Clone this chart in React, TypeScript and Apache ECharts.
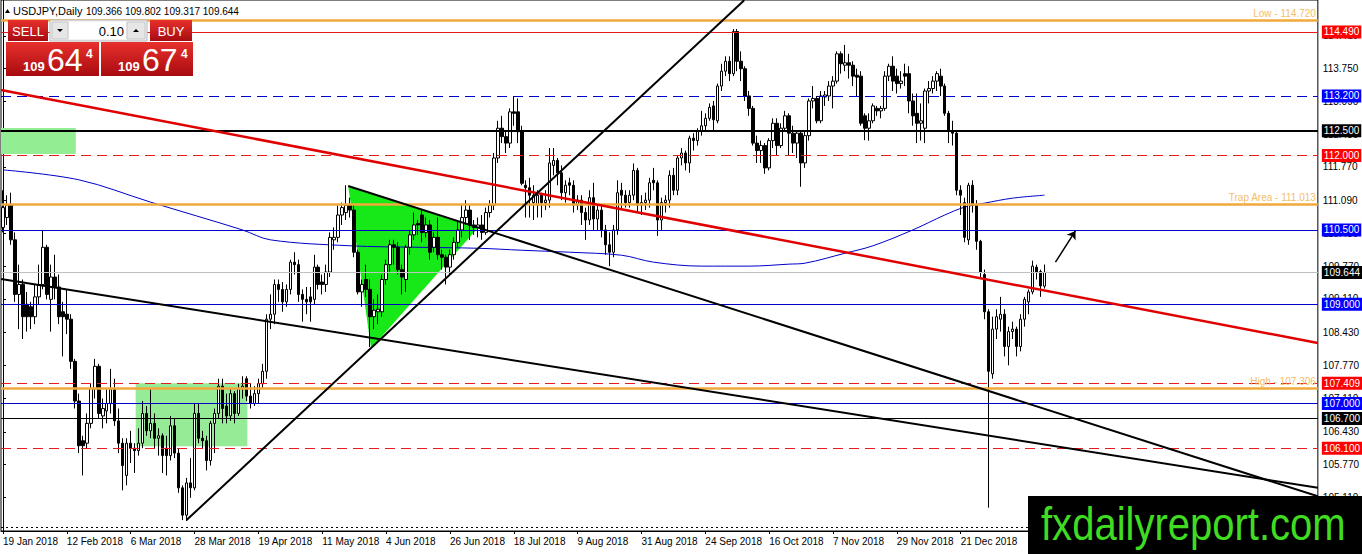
import React, { useEffect, useRef } from "react";
import * as echarts from "echarts";

const FONT = "Liberation Sans";
const MONTHS = ["Jan", "Feb", "Mar", "Apr", "May", "Jun", "Jul", "Aug", "Sep", "Oct", "Nov", "Dec"];

// daily bars [open, close, low, high]
// 19 Jan - 30 Mar 2018
const q1 = [
  [110.55, 110.95, 110.45, 111.3], [110.75, 111.0, 110.6, 111.2], [111.0, 110.3, 110.2, 111.25], [110.3, 109.2, 109.05, 110.45],
  [109.2, 109.4, 108.5, 109.8], [109.4, 108.75, 108.3, 109.5], [109.0, 108.75, 108.45, 109.25], [108.95, 108.75, 108.5, 109.05],
  [108.75, 109.15, 108.6, 109.4], [109.15, 109.4, 109.0, 109.8], [109.4, 110.15, 109.3, 110.5], [110.15, 109.2, 109.1, 110.2],
  [109.1, 109.55, 108.45, 109.8], [109.55, 109.35, 109.1, 110.0], [109.35, 108.75, 108.6, 109.6], [108.85, 108.75, 107.95, 109.05],
  [108.8, 108.7, 108.4, 109.3], [108.7, 107.85, 107.7, 108.8], [107.85, 107.05, 106.9, 107.9], [107.05, 106.15, 106.0, 107.2],
  [106.25, 106.15, 105.55, 106.35], [106.2, 106.6, 106.1, 106.8], [106.6, 107.3, 106.5, 107.4], [107.3, 107.75, 107.1, 107.9],
  [107.75, 106.8, 106.7, 107.8], [106.75, 106.9, 106.5, 107.1], [106.85, 107.0, 106.6, 107.3], [107.0, 107.3, 106.8, 107.7],
  [107.3, 106.65, 106.55, 107.5], [106.65, 106.2, 106.0, 106.9], [106.2, 105.75, 105.25, 106.3], [105.55, 106.2, 105.35, 106.3],
  [106.2, 106.1, 105.8, 106.45], [106.1, 106.05, 105.6, 106.2], [106.05, 106.2, 105.95, 106.5], [106.2, 106.8, 106.1, 107.05],
  [106.8, 106.45, 106.35, 106.95], [106.45, 106.6, 106.3, 107.3], [106.6, 106.3, 106.1, 106.8], [106.3, 106.35, 105.95, 106.5],
  [106.35, 105.95, 105.6, 106.4], [106.1, 105.95, 105.55, 106.35], [105.95, 106.55, 105.85, 106.75], [106.55, 106.0, 105.9, 106.7],
  [106.0, 105.3, 105.2, 106.1], [105.3, 104.75, 104.65, 105.35], [104.75, 105.4, 104.63, 105.5], [105.4, 105.3, 105.1, 105.9],
  [105.3, 106.8, 105.25, 107.0], [106.8, 106.3, 106.2, 107.0], [106.3, 106.25, 106.1, 106.45],
];
// 2 Apr - 29 Jun 2018
const q2 = [
  [106.25, 105.85, 105.65, 106.35], [105.85, 106.6, 105.75, 106.65], [106.6, 106.8, 106.0, 106.9], [106.8, 107.35, 106.7, 107.5],
  [107.35, 106.9, 106.6, 107.5], [106.95, 106.75, 106.6, 107.2], [106.75, 107.2, 106.65, 107.3], [107.2, 106.8, 106.6, 107.25],
  [106.8, 107.3, 106.75, 107.4], [107.3, 107.35, 107.1, 107.55], [107.5, 107.15, 107.05, 107.55], [107.15, 107.0, 106.9, 107.4],
  [107.0, 107.2, 106.95, 107.35], [107.2, 107.4, 107.0, 107.5], [107.4, 107.65, 107.3, 107.8], [107.65, 108.7, 107.5, 108.8],
  [108.7, 108.8, 108.5, 109.2], [108.8, 109.4, 108.6, 109.5], [109.4, 109.3, 109.05, 109.5], [109.3, 109.05, 108.85, 109.45],
  [109.05, 109.3, 108.95, 109.4], [109.3, 109.85, 109.2, 109.9], [109.85, 109.8, 109.6, 110.05], [109.8, 109.2, 109.05, 109.9],
  [109.2, 109.1, 108.65, 109.3], [109.1, 109.05, 108.8, 109.35], [109.15, 109.05, 108.65, 109.35], [109.1, 109.75, 109.0, 110.0],
  [109.75, 109.4, 109.3, 109.8], [109.45, 109.4, 109.2, 109.6], [109.4, 109.65, 109.25, 109.8], [109.65, 110.35, 109.55, 110.45],
  [110.3, 110.35, 110.1, 110.55], [110.35, 110.8, 110.25, 111.0], [110.8, 110.95, 110.6, 111.05], [110.85, 111.0, 110.7, 111.4],
  [111.0, 110.9, 110.75, 111.15], [110.9, 110.05, 109.95, 111.0], [110.05, 109.25, 109.2, 110.1], [109.25, 109.4, 108.95, 109.5],
  [109.5, 109.3, 109.15, 109.8], [109.3, 108.75, 108.14, 109.5], [108.75, 108.88, 108.5, 109.1], [108.85, 108.9, 108.6, 109.2],
  [108.85, 109.5, 108.75, 109.6], [109.5, 109.8, 109.4, 109.9], [109.8, 110.2, 109.65, 110.3], [110.2, 110.15, 109.8, 110.3],
  [110.15, 109.7, 109.6, 110.25], [109.7, 109.55, 109.2, 109.8], [109.5, 110.15, 109.25, 110.2], [110.15, 110.4, 110.0, 110.5],
  [110.4, 110.6, 110.3, 110.85], [110.63, 110.6, 110.4, 110.7], [110.8, 110.45, 110.25, 110.9], [110.45, 110.6, 110.35, 110.75],
  [110.6, 110.05, 109.9, 110.7], [110.15, 110.35, 110.05, 110.45], [110.35, 110.0, 109.9, 110.75], [110.0, 109.95, 109.7, 110.1],
  [109.95, 109.75, 109.4, 110.0], [109.75, 110.0, 109.6, 110.1], [110.0, 110.25, 109.9, 110.35], [110.25, 110.5, 110.15, 110.7],
  [110.5, 110.75, 110.35, 111.0],
];
// 2 Jul - 28 Sep 2018
const q3 = [
  [110.75, 110.9, 110.6, 111.1], [110.9, 110.6, 110.3, 111.0], [110.6, 110.55, 110.4, 110.7], [110.55, 110.6, 110.35, 110.75],
  [110.6, 110.45, 110.3, 110.8], [110.45, 110.85, 110.4, 110.95], [110.85, 111.0, 110.75, 111.1], [111.0, 111.95, 110.9, 112.05],
  [111.95, 112.55, 111.85, 112.7], [112.55, 112.38, 112.25, 112.8], [112.38, 112.25, 112.05, 112.5], [112.25, 112.88, 112.15, 112.95],
  [112.88, 112.85, 112.6, 113.18], [112.88, 112.48, 112.25, 113.15], [112.48, 111.44, 111.4, 112.6], [111.4, 111.35, 110.75, 111.5],
  [111.35, 111.2, 110.75, 111.55], [111.05, 111.2, 110.7, 111.4], [111.0, 111.2, 110.75, 111.3], [111.2, 111.05, 110.75, 111.25],
  [111.05, 111.1, 110.9, 111.3], [111.1, 111.85, 110.95, 112.15], [111.8, 111.9, 111.6, 112.15], [111.9, 111.65, 111.4, 111.95],
  [111.65, 111.25, 111.1, 111.8], [111.25, 111.4, 111.05, 111.5], [111.45, 111.4, 111.2, 111.55], [111.4, 111.0, 110.85, 111.5],
  [111.0, 111.1, 110.9, 111.2], [111.1, 110.85, 110.6, 111.2], [110.85, 110.7, 110.3, 110.95], [110.7, 111.15, 110.6, 111.3],
  [111.15, 110.72, 110.5, 111.45], [110.72, 110.9, 110.5, 111.0], [110.9, 110.5, 110.35, 111.0], [110.5, 110.2, 110.0, 110.6],
  [110.2, 110.05, 109.77, 110.45], [110.05, 110.5, 109.95, 110.6], [110.5, 111.25, 110.4, 111.5], [111.3, 111.2, 110.9, 111.45],
  [111.2, 111.05, 110.95, 111.3], [111.05, 111.2, 110.95, 111.3], [111.2, 111.7, 111.1, 111.84], [111.7, 111.0, 110.85, 111.75],
  [111.0, 111.05, 110.8, 111.2], [111.05, 111.1, 110.9, 111.25], [111.1, 111.45, 110.95, 111.55], [111.5, 111.45, 111.3, 111.75],
  [111.45, 110.7, 110.38, 111.5], [110.7, 111.05, 110.5, 111.15], [111.05, 111.1, 110.85, 111.2], [111.1, 111.6, 110.95, 111.7],
  [111.6, 111.3, 111.2, 111.75], [111.3, 111.95, 111.2, 112.0], [111.95, 112.05, 111.8, 112.15], [112.05, 111.85, 111.7, 112.1],
  [111.85, 112.35, 111.65, 112.4], [112.35, 112.3, 112.1, 112.45], [112.3, 112.5, 112.2, 112.55], [112.5, 112.6, 112.4, 112.9],
  [112.6, 112.75, 112.5, 112.85], [112.75, 112.97, 112.7, 113.05], [113.0, 112.72, 112.5, 113.1], [112.7, 113.4, 112.65, 113.45],
  [113.4, 113.7, 113.3, 113.85],
];
// 1 Oct - 31 Dec 2018
const q4 = [
  [113.7, 113.9, 113.6, 114.0], [113.9, 113.65, 113.5, 114.0], [113.65, 114.5, 113.6, 114.55], [114.5, 113.9, 113.7, 114.55],
  [113.9, 113.75, 113.5, 114.1], [113.75, 113.2, 113.1, 113.8], [113.2, 112.95, 112.8, 113.3], [112.95, 112.25, 112.2, 113.0],
  [112.25, 112.1, 111.85, 112.4], [112.1, 112.2, 111.85, 112.3], [112.2, 111.75, 111.63, 112.25], [111.75, 112.3, 111.7, 112.35],
  [112.3, 112.65, 112.15, 112.75], [112.65, 112.2, 112.0, 112.75], [112.2, 112.55, 112.15, 112.65], [112.55, 112.8, 112.5, 112.9],
  [112.8, 112.45, 112.0, 112.85], [112.45, 112.25, 112.05, 112.6], [112.25, 112.45, 111.95, 112.5], [112.45, 111.85, 111.37, 112.5],
  [111.85, 112.4, 111.75, 112.5], [112.4, 113.1, 112.3, 113.15], [113.1, 113.15, 112.95, 113.4], [113.15, 112.7, 112.65, 113.2],
  [112.7, 113.2, 112.65, 113.3], [113.18, 113.22, 113.0, 113.3], [113.2, 113.4, 113.1, 113.5], [113.4, 113.5, 112.95, 113.6],
  [113.5, 114.05, 113.45, 114.1], [114.05, 113.85, 113.65, 114.1], [113.82, 113.87, 113.7, 114.23], [113.87, 113.82, 113.55, 114.05],
  [113.82, 113.6, 113.4, 113.9], [113.62, 113.58, 113.2, 113.75], [113.6, 112.65, 112.6, 113.7], [112.8, 112.55, 112.31, 112.85],
  [112.55, 112.7, 112.3, 112.85], [112.7, 113.0, 112.65, 113.05], [112.95, 112.9, 112.8, 113.0], [112.9, 112.95, 112.75, 113.0],
  [112.95, 113.6, 112.9, 113.7], [113.6, 113.8, 113.5, 113.85], [113.8, 113.5, 113.3, 114.0], [113.6, 113.45, 113.25, 113.75],
  [113.45, 113.5, 113.35, 113.7], [113.65, 113.6, 113.4, 113.85], [113.65, 113.1, 112.85, 113.8], [113.1, 112.8, 112.6, 113.25],
  [112.85, 112.65, 112.25, 113.25], [112.65, 112.7, 112.3, 113.05], [112.55, 113.3, 112.25, 113.35], [113.3, 113.35, 113.05, 113.5],
  [113.35, 113.5, 113.25, 113.6], [113.5, 113.65, 113.3, 113.7], [113.6, 113.4, 113.2, 113.75], [113.4, 112.85, 112.8, 113.45],
  [112.85, 112.5, 112.25, 112.9], [112.5, 112.45, 112.2, 112.7], [112.45, 111.3, 111.2, 112.5], [111.3, 111.2, 110.8, 111.4],
  [111.05, 110.35, 110.25, 111.15], [110.3, 111.4, 110.2, 111.45], [111.4, 111.0, 110.85, 111.5], [111.0, 110.27, 110.1, 111.1],
  [110.27, 109.65, 109.55, 110.3],
];
// 2 Jan - 23 Jan 2019
const jan2019 = [
  [109.6, 108.85, 108.7, 109.7], [108.85, 107.65, 104.9, 108.9], [107.6, 108.5, 107.5, 108.75], [108.5, 108.75, 108.3, 108.9],
  [108.7, 108.8, 108.45, 109.15], [108.8, 108.15, 107.95, 108.9], [108.15, 108.45, 107.77, 108.55], [108.45, 108.5, 108.3, 108.65],
  [108.5, 108.15, 107.95, 108.55], [108.15, 108.7, 108.05, 108.8], [108.7, 109.1, 108.55, 109.15], [109.05, 109.25, 108.8, 109.3],
  [109.25, 109.77, 109.2, 109.88], [109.75, 109.65, 109.5, 109.8], [109.66, 109.37, 109.15, 109.7], [109.366, 109.644, 109.317, 109.802],
];
const candles = [...q1, ...q2, ...q3, ...q4, ...jan2019];

const firstDay = "2018-01-19";
const holidays = ["2018-12-25", "2019-01-01"];
const SLOTS = 330;
const LAST_LABEL = 240; // 21 Dec 2018, later labels sit under the watermark

// right-hand price scale
const yTicks = [105.11, 105.77, 106.43, 107.11, 107.77, 108.43, 109.11, 109.77, 110.43, 111.09, 111.77, 112.43, 113.09, 113.75, 114.41];
const yMin = 104.43;
const yMax = 115.135;

// moving average, read at bar index
const maIdx = [0, 19, 37, 60, 67, 87, 104, 119, 130, 142, 155, 163, 175, 187, 197, 201, 211, 218, 228, 236, 241, 246, 253, 261];
const maVal = [111.71, 111.51, 111.06, 110.5, 110.3, 110.18, 110.15, 110.13, 110.09, 110.05, 109.99, 109.85, 109.77, 109.77, 109.81, 109.83, 110.03, 110.18, 110.5, 110.8, 110.96, 111.04, 111.14, 111.2];

// horizontal levels
const levels = [
  ["low", 114.72], ["r1", 114.49], ["b1", 113.2], ["k1", 112.5], ["r2", 112.0], ["trap", 111.013], ["b2", 110.5],
  ["bid", 109.644], ["b3", 109.0], ["r3", 107.409], ["high", 107.306], ["b4", 107.0], ["k2", 106.7], ["r4", 106.1], ["dots", 104.51],
] as [string, number][];

// trend lines [[bar, price], [bar, price]]
const redTrend = [[-0.5, 113.32], [329.5, 108.22]];
const upTrend = [[46, 104.65], [185.75, 115.13]];
const triTrend = [[86.5, 111.385], [329.5, 105.13]];
const longTrend = [[-0.5, 109.51], [329.5, 105.3]];
const arrowLine = [[263.75, 109.85], [268.75, 110.48]];

// shaded zones, corners as [bar, price]
const zoneTop = [[-0.5, 112.555], [18.25, 112.555], [18.25, 112.03], [-0.5, 112.03]];
const zoneLow = [[33.25, 107.41], [61.25, 107.41], [61.25, 106.14], [33.25, 106.14]];
const triangle = [[86.5, 111.385], [92.25, 108.11], [119, 110.54]];

const ORANGE = "#f2a93b";
const RED = "#e31b1b";
const BLUE = "#0000c8";
const DASH = [10, 6];

const levelStyle: Record<string, any> = {
  low: { color: ORANGE, width: 2.5, text: "Low - 114.720" },
  r1: { color: RED, width: 1, box: "#ff0000" },
  b1: { color: BLUE, width: 1, type: DASH, box: "#0000ff" },
  k1: { color: "#000", width: 2, box: "#000" },
  r2: { color: RED, width: 1, type: DASH, box: "#ff0000" },
  trap: { color: ORANGE, width: 2.5, text: "Trap Area - 111.013" },
  b2: { color: BLUE, width: 1, box: "#0000ff" },
  bid: { color: "#c0c0c0", width: 1, box: "#000" },
  b3: { color: BLUE, width: 1, box: "#0000ff" },
  r3: { color: RED, width: 1, type: DASH, box: "#ff0000" },
  high: { color: ORANGE, width: 2.5, text: "High - 107.306" },
  b4: { color: BLUE, width: 1, box: "#0000ff" },
  k2: { color: "#000", width: 1, box: "#000" },
  r4: { color: RED, width: 1, type: DASH, box: "#ff0000" },
  dots: { color: "#000", width: 1, type: [2, 3] },
};

function buildDates(): string[] {
  const out: string[] = [];
  const d = new Date(firstDay + "T00:00:00Z");
  while (out.length < candles.length) {
    const key = d.toISOString().slice(0, 10);
    const wd = d.getUTCDay();
    if (wd !== 0 && wd !== 6 && !holidays.includes(key)) out.push(key);
    d.setUTCDate(d.getUTCDate() + 1);
  }
  while (out.length < SLOTS) out.push("");
  return out;
}

function fmtDate(v: string) {
  if (!v) return "";
  const [y, m, dd] = v.split("-");
  return `${Number(dd)} ${MONTHS[Number(m) - 1]} ${y}`;
}

const redGrad = {
  type: "linear", x: 0, y: 0, x2: 0, y2: 1,
  colorStops: [{ offset: 0, color: "#e8302c" }, { offset: 1, color: "#a80b10" }],
};

function txt(x: number, y: number, text: string, font: string, fill: string, align = "left") {
  return {
    type: "text", x, y, z: 101,
    style: { text, font, fill, align, verticalAlign: "middle", textAlign: align, textVerticalAlign: "middle" },
  };
}

function panel() {
  const big = (x: number, w: number, small: string, main: string, frac: string) => [
    { type: "rect", z: 100, shape: { x, y: 42, width: w, height: 34 }, style: { fill: redGrad } },
    txt(x + 17, 66, small, `bold 13px ${FONT}`, "#fff"),
    txt(x + 41, 60, main, `32px ${FONT}`, "#fff"),
    txt(x + 80, 54, frac, `bold 12px ${FONT}`, "#fff"),
  ];
  return [
    { type: "polygon", z: 101, shape: { points: [[5, 13], [7.5, 9], [10, 13]] }, style: { fill: "#000" } },
    txt(13, 11, "USDJPY,Daily", `11px ${FONT}`, "#000"),
    txt(86, 11, "109.366 109.802 109.317 109.644", `10px ${FONT}`, "#000"),
    { type: "rect", z: 100, shape: { x: 8, y: 20, width: 40, height: 21 }, style: { fill: redGrad } },
    txt(28, 31, "SELL", `13px ${FONT}`, "#fff", "center"),
    { type: "rect", z: 100, shape: { x: 50, y: 20, width: 97, height: 21 }, style: { fill: "#f2f2f2", stroke: "#b8b8b8" } },
    { type: "rect", z: 100, shape: { x: 52, y: 22, width: 16, height: 17 }, style: { fill: "#e6e6e6", stroke: "#c8c8c8" } },
    { type: "polygon", z: 101, shape: { points: [[57, 29], [63, 29], [60, 32]] }, style: { fill: "#000" } },
    { type: "rect", z: 100, shape: { x: 69, y: 22, width: 57, height: 17 }, style: { fill: "#fff" } },
    txt(124, 31, "0.10", `13px ${FONT}`, "#000", "right"),
    { type: "rect", z: 100, shape: { x: 127, y: 22, width: 18, height: 17 }, style: { fill: "#e6e6e6", stroke: "#c8c8c8" } },
    { type: "polygon", z: 101, shape: { points: [[133, 32], [139, 32], [136, 29]] }, style: { fill: "#000" } },
    { type: "rect", z: 100, shape: { x: 150, y: 20, width: 42, height: 21 }, style: { fill: redGrad } },
    txt(171, 31, "BUY", `13px ${FONT}`, "#fff", "center"),
    ...big(6, 93, "109", "64", "4"),
    ...big(101, 92, "109", "67", "4"),
  ];
}

function watermark() {
  return [
    { type: "rect", z: 100, shape: { x: 1028, y: 496, width: 334, height: 58 }, style: { fill: "#000" } },
    {
      type: "text", x: 1041, y: 524, z: 101, scaleX: 0.87,
      style: { text: "fxdailyreport.com", font: `46px ${FONT}`, fill: "#3fdc22", align: "left", verticalAlign: "middle", textAlign: "left", textVerticalAlign: "middle" },
    },
  ];
}

const App: React.FC = () => {
  const chartRef = useRef<HTMLDivElement>(null);

  useEffect(() => {
    if (!chartRef.current) return undefined;
    const chart = echarts.init(chartRef.current, undefined, { renderer: "svg" });
    const dates = buildDates();
    const showTick = (i: number) => i % 16 === 0 && i <= LAST_LABEL;

    const hLines = levels.map(([key, value]) => {
      const s = levelStyle[key];
      let label: any = { show: false };
      if (s.box) {
        label = {
          show: true, position: "end", distance: 4, formatter: value.toFixed(3),
          color: "#fff", backgroundColor: s.box, padding: [1, 2, 0, 2],
          fontSize: 10, fontFamily: FONT, lineHeight: 12,
        };
      } else if (s.text) {
        label = {
          show: true, position: "insideEndTop", distance: 2, formatter: s.text,
          color: "#f3bd66", fontSize: 10, fontFamily: FONT,
        };
      }
      return { yAxis: value, lineStyle: { color: s.color, width: s.width, type: s.type || "solid" }, label };
    });

    const seg = (pts: number[][], color: string, width: number) => [
      { coord: pts[0], lineStyle: { color, width, type: "solid" } },
      { coord: pts[1] },
    ];

    const zones = [
      { pts: zoneTop, color: "#93ee93" },
      { pts: zoneLow, color: "#96ec96" },
      { pts: triangle, color: "#17e817" },
    ];

    const options: any = {
      animation: false,
      backgroundColor: "#fff",
      grid: { left: 0, right: 43, top: 0, bottom: 23, show: true, borderColor: "#000", borderWidth: 1, backgroundColor: "#fff" },
      xAxis: [
        {
          type: "category",
          data: dates,
          boundaryGap: true,
          axisLine: { show: true, lineStyle: { color: "#000" } },
          axisTick: { show: true, alignWithLabel: true, length: 3, lineStyle: { color: "#000" }, interval: showTick },
          axisLabel: {
            interval: showTick,
            formatter: fmtDate, align: "left", margin: 5,
            color: "#000", fontSize: 10, fontFamily: FONT,
          },
          splitLine: { show: false },
        },
        { type: "value", min: -0.5, max: SLOTS - 0.5, show: false },
      ],
      yAxis: {
        type: "value",
        position: "right",
        min: yMin,
        max: yMax,
        scale: true,
        axisLine: { show: true, lineStyle: { color: "#000" } },
        axisTick: { show: true, length: 3, customValues: yTicks, lineStyle: { color: "#000" } },
        axisLabel: {
          customValues: yTicks, formatter: (v: number) => v.toFixed(3),
          margin: 5, color: "#000", fontSize: 10, fontFamily: FONT,
        },
        splitLine: { show: false },
      },
      series: [
        {
          name: "zones",
          type: "custom",
          xAxisIndex: 1,
          z: 1,
          silent: true,
          data: zones.map((_, k) => [k, 110]),
          renderItem: (params: any, api: any) => {
            const zn = zones[params.dataIndex];
            return {
              type: "polygon",
              shape: { points: zn.pts.map((p) => api.coord(p)) },
              style: { fill: zn.color },
            };
          },
        },
        {
          name: "MA",
          type: "line",
          xAxisIndex: 1,
          z: 2,
          silent: true,
          symbol: "none",
          smooth: 0.35,
          data: maIdx.map((i, k) => [i, maVal[k]]),
          lineStyle: { color: BLUE, width: 1 },
        },
        {
          name: "USDJPY",
          type: "candlestick",
          xAxisIndex: 0,
          z: 3,
          silent: true,
          barWidth: 3,
          data: candles,
          itemStyle: { color: "#fff", color0: "#000", borderColor: "#000", borderColor0: "#000", borderWidth: 1 },
        },
        {
          name: "levels",
          type: "line",
          xAxisIndex: 1,
          z: 4,
          data: [],
          markLine: {
            silent: true,
            symbol: "none",
            animation: false,
            data: [
              ...hLines,
              seg(redTrend, "#e00000", 2.5),
              seg(upTrend, "#000", 2),
              seg(triTrend, "#000", 2),
              seg(longTrend, "#000", 2),
            ],
          },
        },
        {
          name: "arrow",
          type: "line",
          xAxisIndex: 1,
          z: 4,
          data: [],
          markLine: {
            silent: true,
            symbol: ["none", "arrow"],
            symbolSize: 8,
            animation: false,
            label: { show: false },
            data: [[{ coord: arrowLine[0], lineStyle: { color: "#000", width: 1.5, type: "solid" } }, { coord: arrowLine[1] }]],
          },
        },
      ],
      graphic: [...panel(), ...watermark()],
    };

    chart.setOption(options);
    return () => {
      chart.dispose();
    };
  }, []);

  return <div ref={chartRef} style={{ position: "fixed", left: 0, top: 0, width: 1362, height: 554 }} />;
};

export default App;
